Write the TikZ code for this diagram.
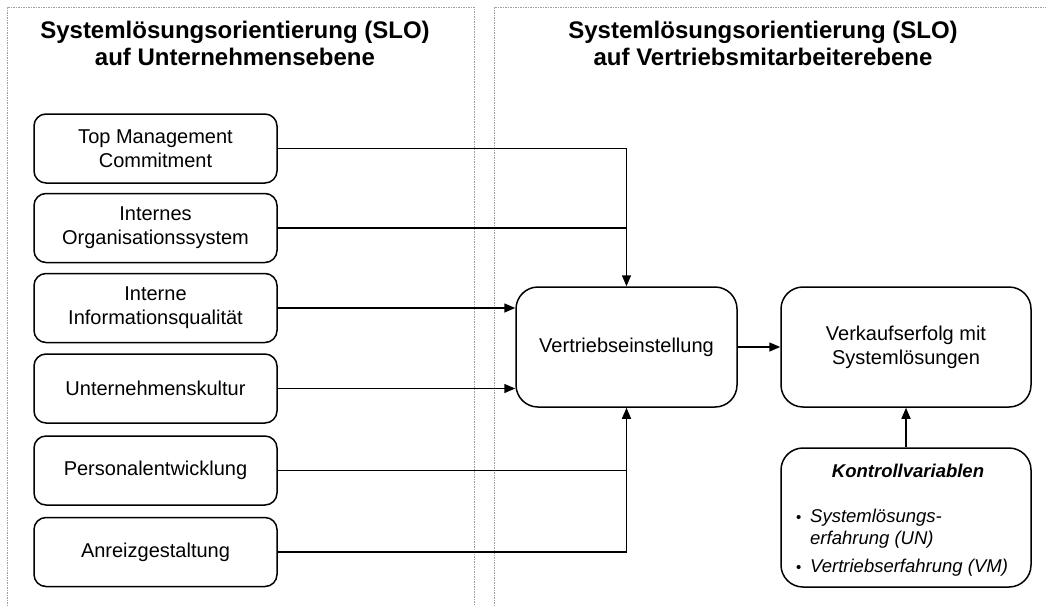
\documentclass[tikz,border=0pt]{standalone}
\usepackage{fontspec}
\setmainfont{Liberation Sans}
\usetikzlibrary{arrows.meta}
\begin{document}
\begin{tikzpicture}[x=1pt,y=-1pt,
  panel/.style={draw=gray!75, line width=0.8pt, dash pattern=on 1.5pt off 1pt},
  factor/.style={draw, line width=1.5pt, rounded corners=12pt, minimum width=243pt, minimum height=69pt, inner sep=0pt, align=center, font=\fontsize{20}{24}\selectfont},
  bigbox/.style={draw, line width=1.5pt, rounded corners=22pt, minimum width=250pt, minimum height=120pt, inner sep=0pt, align=center, font=\fontsize{20}{24}\selectfont},
  conn/.style={line width=1.5pt},
  arr/.style={conn, -{Triangle[length=11pt,width=9pt]}},
  heading/.style={font=\fontsize{24}{27}\selectfont\bfseries, align=center, inner sep=0pt, anchor=north},
  kvtext/.style={font=\fontsize{18.5}{22}\selectfont\itshape, inner sep=0pt, anchor=base west}
]
\useasboundingbox (0,0) rectangle (1046,606);
% panels
\draw[panel] (7,606) -- (7,7) -- (474,7) -- (474,606);
\draw[panel] (494,606) -- (494,7) -- (1050,7);
% headings
\node[heading] (h1) at (235,21) {Systemlösungsorientierung (SLO)\\auf Unternehmensebene};
\node[heading] (h2) at (763,21) {Systemlösungsorientierung (SLO)\\auf Vertriebsmitarbeiterebene};
% factor boxes
\node[factor] (b1) at (155.5,148.5) {Top Management\\Commitment};
\node[factor] (b2) at (155.5,228) {Internes\\Organisationssystem};
\node[factor] (b3) at (155.5,308) {Interne\\Informationsqualität};
\node[factor] (b4) at (155.5,388.5) {Unternehmenskultur};
\node[factor] (b5) at (155.5,470.5) {Personalentwicklung};
\node[factor] (b6) at (155.5,552) {Anreizgestaltung};
% central boxes
\node[bigbox, minimum width=221pt] (ve) at (626.5,347) {Vertriebseinstellung};
\node[bigbox] (vk) at (906,347) {Verkaufserfolg mit\\Systemlösungen};
\node[draw, line width=1.5pt, rounded corners=22pt, minimum width=250pt, minimum height=139pt] (kv) at (906,517.5) {};
\node[font=\fontsize{18.5}{22}\selectfont\bfseries\itshape, inner sep=0pt, anchor=base] (kvt) at (908,477) {Kontrollvariablen};
\node[kvtext, font=\fontsize{15}{18}\selectfont] (k1) at (796,522) {•};
\node[kvtext] (k1a) at (810,522) {Systemlösungs-};
\node[kvtext] (k1b) at (810,544) {erfahrung (UN)};
\node[kvtext, font=\fontsize{15}{18}\selectfont] (k2) at (796,572) {•};
\node[kvtext] (k2a) at (810,572) {Vertriebserfahrung (VM)};
% connectors
\draw[arr] (b1.east) -| (ve.north);
\draw[conn] (b2.east) -- (b2.east -| ve.north);
\draw[arr] (b3.east) -- (b3.east -| ve.west);
\draw[arr] (b4.east) -- (b4.east -| ve.west);
\draw[conn] (b5.east) -- (b5.east -| ve.south);
\draw[arr] (b6.east) -| (ve.south);
\draw[arr] (ve.east) -- (vk.west);
\draw[arr] (kv.north) -- (vk.south);
\end{tikzpicture}
\end{document}
